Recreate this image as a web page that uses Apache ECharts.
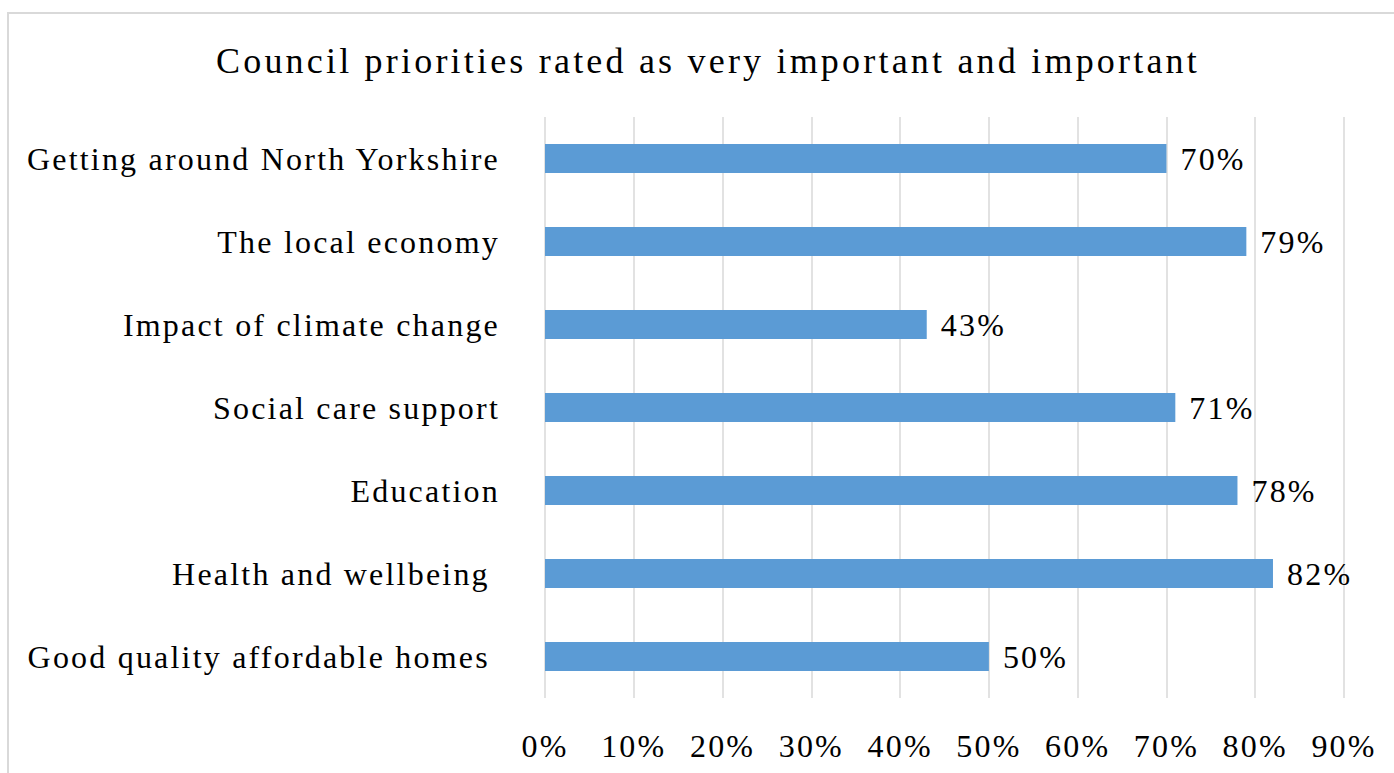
<!DOCTYPE html>
<html>
<head>
<meta charset="utf-8">
<script src="https://cdn.jsdelivr.net/npm/echarts@6/dist/echarts.min.js"></script>
<style>
html,body{margin:0;padding:0;background:#fff;}
#chart{width:1394px;height:773px;}
#chart text{letter-spacing:2.2px;}
#chart text[style*="36px"]{letter-spacing:3.2px;}
</style>
</head>
<body>
<div id="chart"></div>
<script>
const titleText = 'Council priorities rated as very important and important';
const categories = ['Good quality affordable homes ', 'Health and wellbeing ', 'Education', 'Social care support', 'Impact of climate change', 'The local economy', 'Getting around North Yorkshire'];
const values = [50, 82, 78, 71, 43, 79, 70];
const xTicks = [0, 10, 20, 30, 40, 50, 60, 70, 80, 90];

const chart = echarts.init(document.getElementById('chart'), null, {renderer: 'svg'});
const font = 'Liberation Serif';
chart.setOption({
  animation: false,
  backgroundColor: '#fff',
  graphic: [{
    type: 'rect', silent: true,
    shape: {x: 8, y: 13, width: 1500, height: 900},
    style: {fill: 'none', stroke: '#d9d9d9', lineWidth: 2}
  }],
  title: {
    text: titleText,
    left: 703, textAlign: 'center', top: 38,
    textStyle: {fontFamily: font, fontSize: 36, fontWeight: 'normal', color: '#000'}
  },
  grid: {left: 545, right: 50, top: 117, bottom: 75, containLabel: false},
  xAxis: {
    type: 'value', min: 0, max: 90, interval: 10,
    axisLine: {show: false}, axisTick: {show: false},
    splitLine: {show: true, lineStyle: {color: '#d9d9d9', width: 1.5}},
    axisLabel: {formatter: v => xTicks.includes(v) ? v + '%' : '', fontFamily: font, fontSize: 32, color: '#000', margin: 32}
  },
  yAxis: {
    type: 'category', data: categories,
    axisLine: {show: false}, axisTick: {show: false},
    axisLabel: {fontFamily: font, fontSize: 32, color: '#000', margin: 45}
  },
  series: [{
    type: 'bar', data: values, barWidth: '35%',
    itemStyle: {color: '#5b9bd5'},
    label: {show: true, position: 'right', distance: 14, formatter: '{c}%', fontFamily: font, fontSize: 32, color: '#000'}
  }]
});
</script>
</body>
</html>
